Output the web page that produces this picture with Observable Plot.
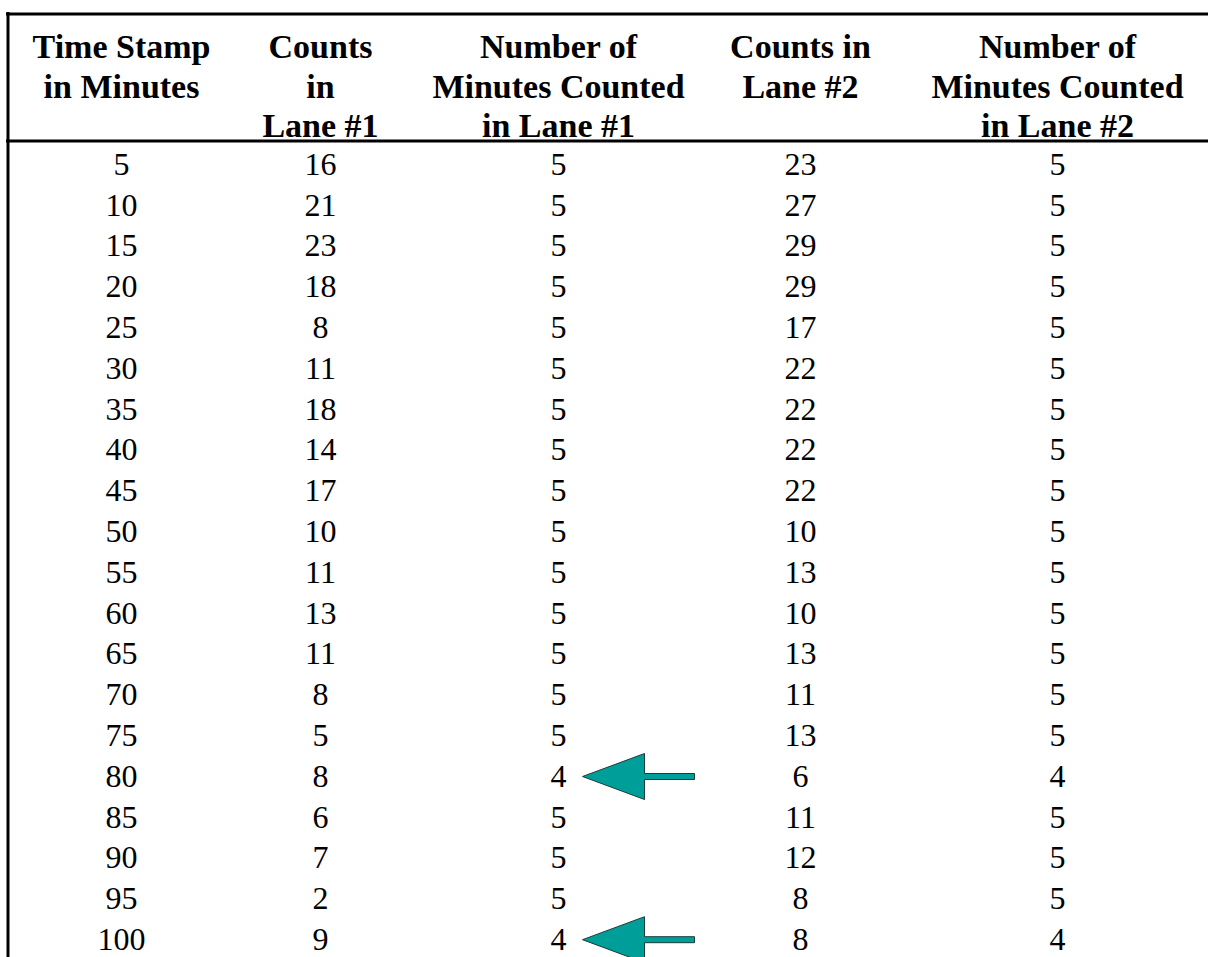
<!DOCTYPE html>
<html>
<head>
<meta charset="utf-8">
<script src="https://cdn.jsdelivr.net/npm/d3@7"></script>
<script src="https://cdn.jsdelivr.net/npm/@observablehq/plot@0.6"></script>
<style>
  html, body { margin: 0; padding: 0; background: #fff; }
  #chart svg { display: block; }
</style>
</head>
<body>
<div id="chart"></div>
<script>
// ---------- data ----------
const headers = [
  "Time Stamp\nin Minutes",
  "Counts\nin\nLane #1",
  "Number of\nMinutes Counted\nin Lane #1",
  "Counts in\nLane #2",
  "Number of\nMinutes Counted\nin Lane #2"
];
const timeStamps = [5, 10, 15, 20, 25, 30, 35, 40, 45, 50, 55, 60, 65, 70, 75, 80, 85, 90, 95, 100];
const countsLane1 = [16, 21, 23, 18, 8, 11, 18, 14, 17, 10, 11, 13, 11, 8, 5, 8, 6, 7, 2, 9];
const minutesLane1 = [5, 5, 5, 5, 5, 5, 5, 5, 5, 5, 5, 5, 5, 5, 5, 4, 5, 5, 5, 4];
const countsLane2 = [23, 27, 29, 29, 17, 22, 22, 22, 22, 10, 13, 10, 13, 11, 13, 6, 11, 12, 8, 8];
const minutesLane2 = [5, 5, 5, 5, 5, 5, 5, 5, 5, 5, 5, 5, 5, 5, 5, 4, 5, 5, 5, 4];

// ---------- layout (pixels) ----------
const W = 1208, H = 957;
const colX = [121, 320, 558, 800, 1057];
const rowY0 = 164, rowStep = 40.8;
const headerTop = 29;
const topLineY = 13.5, headerLineY = 140.5, leftLineX = 7.5;
const serif = "'Liberation Serif', 'Times New Roman', Times, serif";

const columns = [timeStamps, countsLane1, minutesLane1, countsLane2, minutesLane2];
const cells = [];
timeStamps.forEach((_, i) => columns.forEach((col, j) => cells.push({row: i, col: j, value: col[i]})));
const headerCells = headers.map((h, j) => ({col: j, text: h}));
const flagged = timeStamps.map((t, i) => ({row: i, minutes: minutesLane1[i]})).filter(d => d.minutes < 5);

// block arrow pointing left; origin at the tip
const blockArrow = {
  draw(ctx) {
    ctx.moveTo(0, 0);
    ctx.lineTo(62, -23);
    ctx.lineTo(62, -3);
    ctx.lineTo(112, -3);
    ctx.lineTo(112, 3);
    ctx.lineTo(62, 3);
    ctx.lineTo(62, 23);
    ctx.closePath();
  }
};

const chart = Plot.plot({
  width: W,
  height: H,
  margin: 0,
  x: {type: "linear", domain: [0, W], range: [0, W], axis: null},
  y: {type: "linear", domain: [0, H], range: [0, H], axis: null},
  style: {background: "#fff"},
  marks: [
    // borders
    Plot.ruleY([topLineY], {x1: leftLineX - 1.5, x2: W, stroke: "#000", strokeWidth: 3}),
    Plot.ruleY([headerLineY], {x1: leftLineX - 1.5, x2: W, stroke: "#000", strokeWidth: 3}),
    Plot.ruleX([leftLineX], {y1: topLineY - 1.5, y2: H, stroke: "#000", strokeWidth: 3}),
    // header
    Plot.text(headerCells, {
      x: d => colX[d.col],
      y: () => headerTop,
      text: "text",
      lineAnchor: "top",
      lineHeight: 1.17,
      fontSize: 34,
      fontWeight: "bold",
      fontFamily: serif,
      fill: "#000"
    }),
    // body
    Plot.text(cells, {
      x: d => colX[d.col],
      y: d => rowY0 + d.row * rowStep,
      text: d => String(d.value),
      lineAnchor: "middle",
      fontSize: 32,
      fontFamily: serif,
      fill: "#000"
    }),
    // arrows marking 4-minute intervals in lane 1
    Plot.dot(flagged, {
      x: () => colX[2],
      y: d => rowY0 + d.row * rowStep,
      dx: 24,
      symbol: blockArrow,
      r: 1,
      fill: "#009e99",
      stroke: "#1d3b3b",
      strokeWidth: 1
    })
  ]
});
document.getElementById("chart").appendChild(chart);
</script>
</body>
</html>
